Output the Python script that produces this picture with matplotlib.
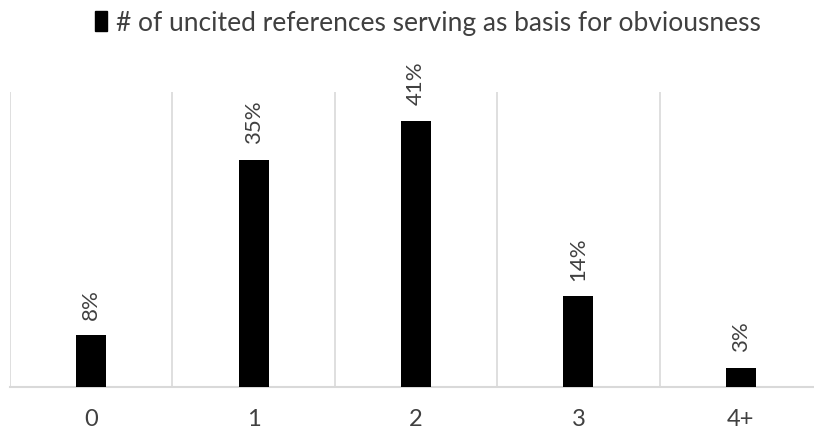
import matplotlib
matplotlib.use("Agg")
import matplotlib.pyplot as plt
from matplotlib.patches import Patch
import numpy as np

categories = ["0", "1", "2", "3", "4+"]
shares = [0.08, 0.35, 0.41, 0.14, 0.03]
series_name = "# of uncited references serving as basis for obviousness"

plt.rcParams["font.family"] = ["Lato", "DejaVu Sans"]
text_color = "#404040"
grid_color = "#d9d9d9"

fig = plt.figure(figsize=(8.14, 4.30), dpi=100)
ax = fig.add_axes([10 / 814, 43 / 430, 812 / 814, 295 / 430])

x = np.arange(len(categories))
bars = ax.bar(x, shares, width=0.185, color="black", zorder=3)

for xi, v in zip(x, shares):
    ax.annotate(f"{v * 100:.0f}%", (xi, v), xytext=(0, 11), textcoords="offset points",
                rotation=90, ha="center", va="bottom", fontsize=16, color=text_color)

ax.set_xlim(-0.5, len(categories) - 0.5)
ax.set_ylim(0, 0.454)
ax.set_xticks(x)
ax.set_xticklabels(categories, fontsize=17, color=text_color)
ax.set_xticks(np.arange(-0.5, len(categories), 1.0), minor=True)
ax.tick_params(axis="x", which="both", length=0, pad=16)
ax.set_yticks([])
ax.grid(which="minor", axis="x", color=grid_color, linewidth=1.2, zorder=0)
for side in ["top", "right", "left"]:
    ax.spines[side].set_visible(False)
ax.spines["bottom"].set_color(grid_color)
ax.spines["bottom"].set_linewidth(1.5)

fig.legend(handles=[Patch(color="black", label=series_name)], loc="center",
           bbox_to_anchor=(428 / 814, 1 - 23 / 430), frameon=False, fontsize=19,
           handlelength=0.45, handleheight=0.8, handletextpad=0.35, labelcolor=text_color)

fig.savefig("out.png", dpi=100)
